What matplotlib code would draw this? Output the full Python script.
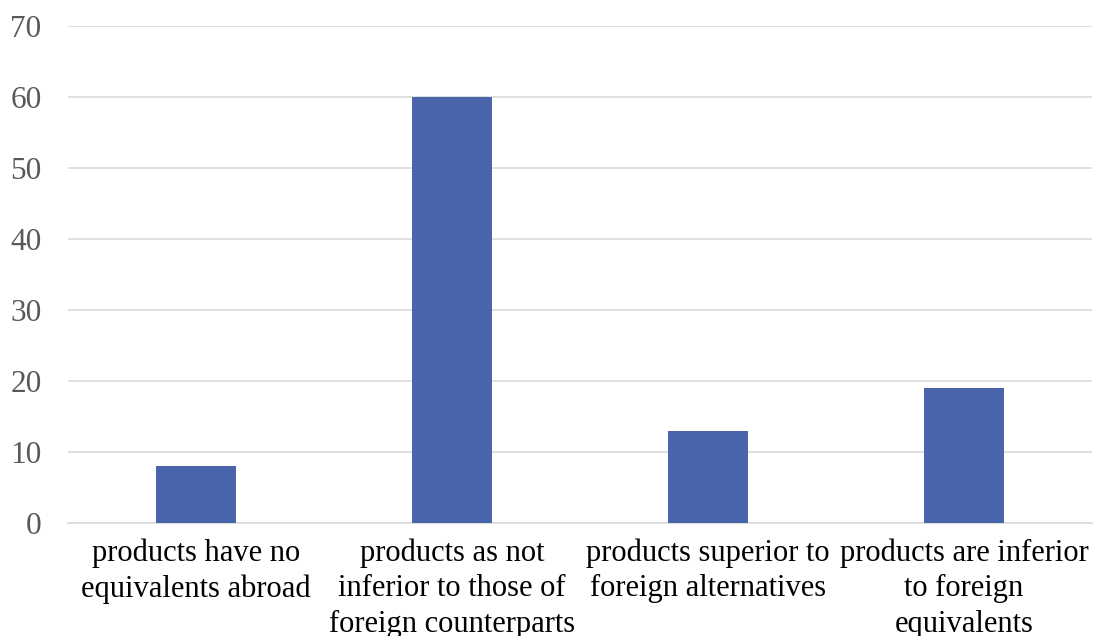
import matplotlib
matplotlib.use("Agg")
import matplotlib.pyplot as plt

categories = [
    "products have no\nequivalents abroad",
    "products as not\ninferior to those of\nforeign counterparts",
    "products superior to\nforeign alternatives",
    "products are inferior\nto foreign\nequivalents",
]
values = [8, 60, 13, 19]
yticks = [0, 10, 20, 30, 40, 50, 60, 70]

plt.rcParams['font.family'] = ['Liberation Serif', 'DejaVu Serif']

fig = plt.figure(figsize=(10.96, 6.36), dpi=100)
ax = fig.add_axes([68/1096, 113/636, 1024/1096, 497/636])

x = list(range(len(categories)))
ax.bar(x, values, width=0.316, color='#4A64AC', zorder=3)
ax.set_xlim(-0.5, len(categories) - 0.5)
ax.set_ylim(0, 70)
ax.set_yticks(yticks)
ax.set_yticklabels([str(t) for t in yticks], fontsize=22.5, color='#595959')
ax.set_xticks(x)
ax.set_xticklabels(categories, fontsize=22, color='black', linespacing=1.3)
ax.tick_params(axis='y', length=0, pad=19)
ax.tick_params(axis='x', length=0, pad=11)
ax.grid(axis='y', color='#d9d9d9', linewidth=1.2, zorder=0)
for s in ['top', 'right', 'left']:
    ax.spines[s].set_visible(False)
ax.spines['bottom'].set_color('#d9d9d9')
ax.spines['bottom'].set_linewidth(1.2)

fig.savefig("out.png", dpi=100)
